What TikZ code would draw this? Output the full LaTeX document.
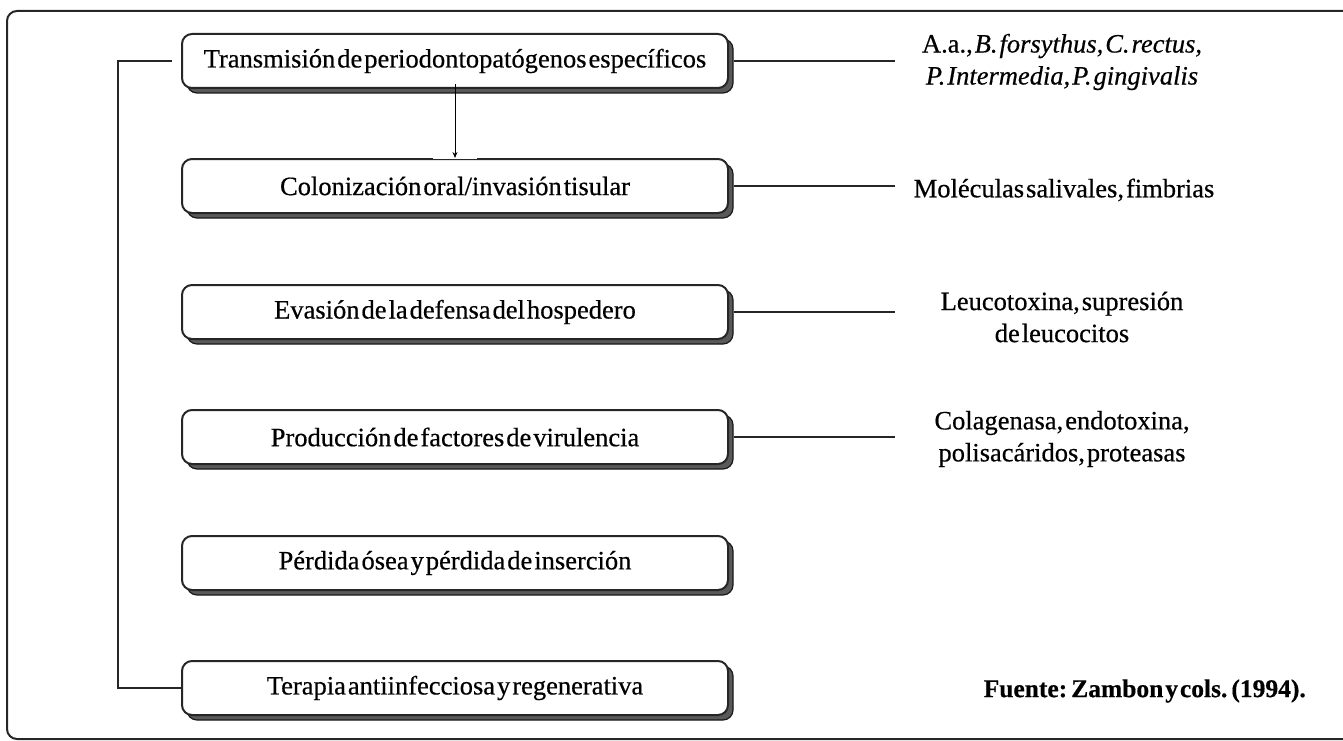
\documentclass[tikz,border=0pt]{standalone}
\usepackage{fontspec}
\setmainfont{Liberation Serif}[WordSpace=0.3, FakeBold=0.5]
\usetikzlibrary{shadows,arrows.meta}
\begin{document}
\begin{tikzpicture}[x=1pt,y=-1pt,
  stepbox/.style={draw=black!85, line width=2pt, fill=white, rounded corners=10pt,
    minimum width=546pt, minimum height=54pt, inner sep=0pt,
    font=\fontsize{26.5}{30}\selectfont,
    general shadow={shadow xshift=5pt, shadow yshift=-5pt, fill=black!65, draw=black!90, line width=1.2pt}},
  side/.style={align=center, font=\fontsize{26.5}{32}\selectfont, inner sep=0pt},
  conn/.style={line width=2pt, draw=black!85}]
\useasboundingbox (0,0) rectangle (1343,741);
\clip (0,0) rectangle (1343,741);
\draw[line width=2pt, draw=black!85, rounded corners=10pt] (7,11) rectangle (1360,739);

\node[stepbox] (b1) at (455,61) {Transmisión de periodontopatógenos específicos};
\node[stepbox] (b2) at (455,186) {Colonización oral/invasión tisular};
\node[stepbox] (b3) at (455,312) {Evasión de la defensa del hospedero};
\node[stepbox] (b4) at (455,437) {Producción de factores de virulencia};
\node[stepbox] (b5) at (455,563) {Pérdida ósea y pérdida de inserción};
\node[stepbox] (b6) at (455,688) {Terapia antiinfecciosa y regenerativa};

\node[side] (t1) at (1062,62) {A.a., \textit{B. forsythus, C. rectus,}\\\textit{P. Intermedia, P. gingivalis}};
\node[side] (t2) at (1064,190) {Moléculas salivales, fimbrias};
\node[side] (t3) at (1062,317) {Leucotoxina, supresión\\de leucocitos};
\node[side] (t4) at (1062,439) {Colagenasa, endotoxina,\\polisacáridos, proteasas};
\node[side, font=\bfseries\fontsize{25.5}{30}\selectfont, anchor=east] (src) at (1306,691) {Fuente: Zambon y cols. (1994).};

\coordinate (xend) at (895,0);
\draw[conn] ([xshift=5pt]b1.east) -- (b1.east -| xend);
\draw[conn] ([xshift=5pt]b2.east) -- (b2.east -| xend);
\draw[conn] ([xshift=5pt]b3.east) -- (b3.east -| xend);
\draw[conn] ([xshift=5pt]b4.east) -- (b4.east -| xend);

\draw[conn] ([xshift=-9pt]b1.west) -- ++(-54,0) |- (b6.west);

\draw[white, line width=2.8pt] ([xshift=-22pt]b2.north) -- ([xshift=22pt]b2.north);
\draw[line width=0.9pt, -{Stealth[length=6pt,width=5pt]}] ([yshift=5pt]b1.south) -- (b2.north);
\end{tikzpicture}
\end{document}
